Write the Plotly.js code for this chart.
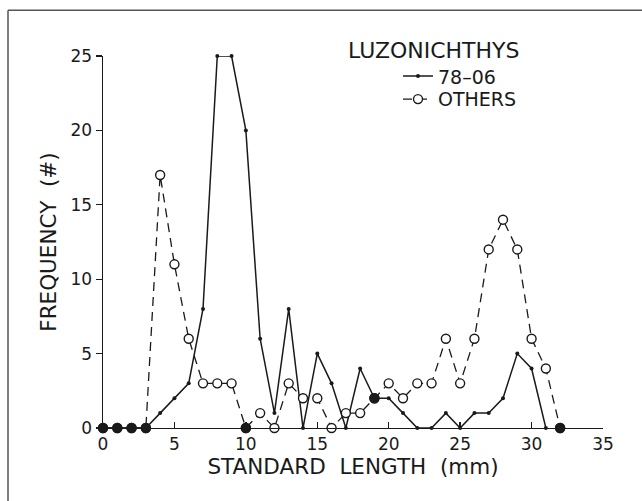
<!DOCTYPE html>
<html>
<head>
<meta charset="utf-8">
<script src="https://cdn.plot.ly/plotly-3.0.1.min.js"></script>
<style>html,body{margin:0;padding:0;background:#fff;}#chart{width:642px;height:501px;}</style>
</head>
<body>
<div id="chart"></div>
<script>
// Data
const lengthMM = [0,1,2,3,4,5,6,7,8,9,10,11,12,13,14,15,16,17,18,19,20,21,22,23,24,25,26,27,28,29,30,31,32];
const freq7806 = [0,0,0,0,1,2,3,8,25,25,20,6,1,8,0,5,3,0,4,2,2,1,0,0,1,0,1,1,2,5,4,0];
const freqOthers = [0,0,0,0,17,11,6,3,3,3,0,1,0,3,2,2,0,1,1,2,3,2,3,3,6,3,6,12,14,12,6,4,0];
const xTicks = [0,5,10,15,20,25,30,35];
const yTicks = [0,5,10,15,20,25];
const legendTitle = 'LUZONICHTHYS';
const seriesNames = ['78\u201306', 'OTHERS'];

// style: which OTHERS markers are printed solid in the reference
const othersSolidIdx = [0,1,2,3,10,19,32];

const FONT = 'DejaVu Sans, Liberation Sans, sans-serif';
const INK = '#1a1a1a';

const traces = [
  {
    x: lengthMM.slice(0, freq7806.length), y: freq7806,
    name: seriesNames[0], type: 'scatter', mode: 'lines+markers', legend: 'legend',
    line: {color: INK, width: 1.5},
    marker: {color: INK, size: 4, symbol: 'circle'},
    cliponaxis: false
  },
  {
    x: lengthMM, y: freqOthers,
    name: seriesNames[1], type: 'scatter', mode: 'lines+markers', legend: 'legend2',
    line: {color: INK, width: 1.3, dash: '9px,6px'},
    marker: {color: '#fff', size: 9, symbol: 'circle', line: {color: INK, width: 1.4}},
    cliponaxis: false
  },
  {
    x: othersSolidIdx.map(i => lengthMM[i]), y: othersSolidIdx.map(i => freqOthers[i]),
    name: seriesNames[1], type: 'scatter', mode: 'markers', showlegend: false,
    marker: {color: INK, size: 9, symbol: 'circle', line: {color: INK, width: 1.4}},
    cliponaxis: false
  }
];

const legendBase = {
  xanchor: 'left', yanchor: 'middle',
  bgcolor: 'rgba(0,0,0,0)', borderwidth: 0,
  font: {family: FONT, size: 19, color: INK},
  itemwidth: 30
};

const layout = {
  width: 642, height: 501,
  margin: {l: 103, r: 39, t: 56, b: 73},
  paper_bgcolor: '#fff', plot_bgcolor: '#fff',
  font: {family: FONT, color: INK, size: 17},
  showlegend: true,
  legend: Object.assign({}, legendBase, {x: 0.59, y: 0.9455}),
  legend2: Object.assign({}, legendBase, {x: 0.59, y: 0.8838}),
  xaxis: {
    range: [0, 35], tickvals: xTicks, ticktext: xTicks.map(String),
    showgrid: false, zeroline: false,
    showline: true, linecolor: INK, linewidth: 1.4,
    ticks: 'inside', ticklen: 6, tickcolor: INK, tickwidth: 1.3,
    tickfont: {family: FONT, size: 17, color: INK},
    title: {text: 'STANDARD\u00a0\u00a0LENGTH\u00a0\u00a0(mm)', font: {family: FONT, size: 21.5, color: INK}, standoff: 1}
  },
  yaxis: {
    range: [0, 25], tickvals: yTicks, ticktext: yTicks.map(String),
    showgrid: false, zeroline: false,
    showline: true, linecolor: INK, linewidth: 1.4,
    ticks: 'outside', ticklen: 6, tickcolor: INK, tickwidth: 1.3,
    tickfont: {family: FONT, size: 17, color: INK},
    title: {text: 'FREQUENCY\u00a0\u00a0(#)', font: {family: FONT, size: 21.5, color: INK}, standoff: 8}
  },
  annotations: [
    {text: legendTitle, xref: 'paper', yref: 'paper', x: 0.486, y: 1.0153, xanchor: 'left', yanchor: 'middle',
     showarrow: false, font: {family: FONT, size: 22, color: INK}}
  ],
  shapes: [
    {type: 'line', xref: 'paper', yref: 'paper', x0: -0.19, x1: 1.08, y0: 1.1227, y1: 1.1227, line: {color: '#555', width: 1.5}},
    {type: 'line', xref: 'paper', yref: 'paper', x0: -0.19, x1: -0.19, y0: 1.1227, y1: -0.2, line: {color: '#555', width: 1.5}}
  ]
};

Plotly.newPlot('chart', traces, layout, {displayModeBar: false, staticPlot: true});
</script>
</body>
</html>
